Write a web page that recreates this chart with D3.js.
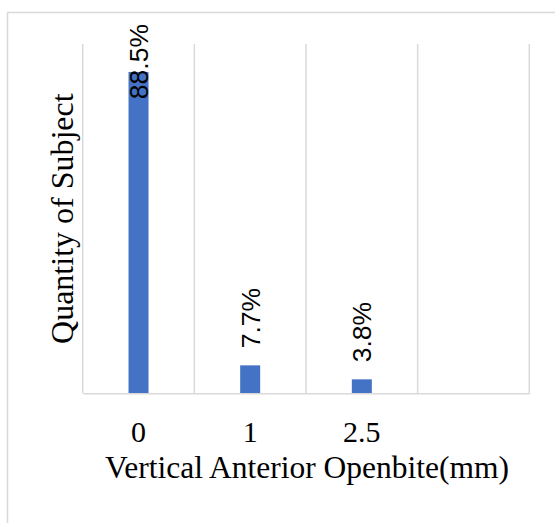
<!DOCTYPE html>
<html>
<head>
<meta charset="utf-8">
<script src="https://cdn.jsdelivr.net/npm/d3@7"></script>
<style>
  html, body { margin: 0; padding: 0; background: #fff; }
  svg { display: block; }
  text { font-family: "Liberation Serif", "Times New Roman", serif; fill: #000; }
</style>
</head>
<body>
<svg id="chart" width="555" height="523"></svg>
<script>
const categories = ["0", "1", "2.5", " "];
const counts = [23, 2, 1, null];
const percentLabels = ["88.5%", "7.7%", "3.8%", ""];
const yMax = 25;
const xTitle = "Vertical Anterior Openbite(mm)";
const yTitle = "Quantity of Subject";

const W = 555, H = 523;
const plot = { left: 82.7, right: 529.3, top: 44, bottom: 393.3 };
const svg = d3.select("#chart");

// outer frame
svg.append("rect")
  .attr("x", 7.5).attr("y", 12.5)
  .attr("width", 700).attr("height", 700)
  .attr("fill", "none").attr("stroke", "#d9d9d9").attr("stroke-width", 1.5);

const x = d3.scaleBand().domain(categories).range([plot.left, plot.right]).paddingInner(0).paddingOuter(0);
const y = d3.scaleLinear().domain([0, yMax]).range([plot.bottom, plot.top]);

// vertical gridlines at category boundaries
const bounds = categories.map(c => x(c)).concat([x.range()[1]]);
svg.append("g").selectAll("line").data(bounds).join("line")
  .attr("x1", d => d).attr("x2", d => d)
  .attr("y1", y(yMax)).attr("y2", y(0))
  .attr("stroke", "#d9d9d9").attr("stroke-width", 1.5);

// bars
const barW = 20;
const data = categories.map((c, i) => ({ c, v: counts[i], label: percentLabels[i] })).filter(d => d.v != null);
svg.append("g").selectAll("rect").data(data).join("rect")
  .attr("x", d => x(d.c) + x.bandwidth() / 2 - barW / 2)
  .attr("y", d => y(d.v))
  .attr("width", barW)
  .attr("height", d => y(0) - y(d.v))
  .attr("fill", "#4472C4");

// x axis
const xAxis = svg.append("g")
  .attr("transform", `translate(0,${plot.bottom})`)
  .call(d3.axisBottom(x).tickSize(0).tickPadding(0));
xAxis.select(".domain").attr("stroke", "#d9d9d9").attr("stroke-width", 1.5);
xAxis.selectAll("text")
  .attr("dy", null).attr("y", 49)
  .style("font-family", '"Liberation Serif", serif')
  .style("font-size", "30px").attr("fill", "#000");

// data labels (rotated)
const lbl = svg.append("g").selectAll("text").data(data).join("text")
  .style("font-family", '"Liberation Sans", Arial, sans-serif')
  .style("font-size", "26.5px")
  .attr("text-anchor", "start")
  .text(d => d.label);
lbl.each(function(d) {
  const len = this.getComputedTextLength();
  const cx = x(d.c) + x.bandwidth() / 2;
  const yStart = Math.max(y(d.v) - 17, 24 + len);
  d3.select(this).attr("transform", `translate(${cx + 9.5},${yStart}) rotate(-90)`);
});

// axis titles
svg.append("text")
  .attr("x", (plot.left + plot.right) / 2 + 1).attr("y", 478)
  .attr("text-anchor", "middle")
  .style("font-size", "31.5px")
  .text(xTitle);

svg.append("text")
  .attr("transform", `translate(73,${(plot.top + plot.bottom) / 2}) rotate(-90)`)
  .attr("text-anchor", "middle")
  .style("font-size", "32px")
  .text(yTitle);
</script>
</body>
</html>
